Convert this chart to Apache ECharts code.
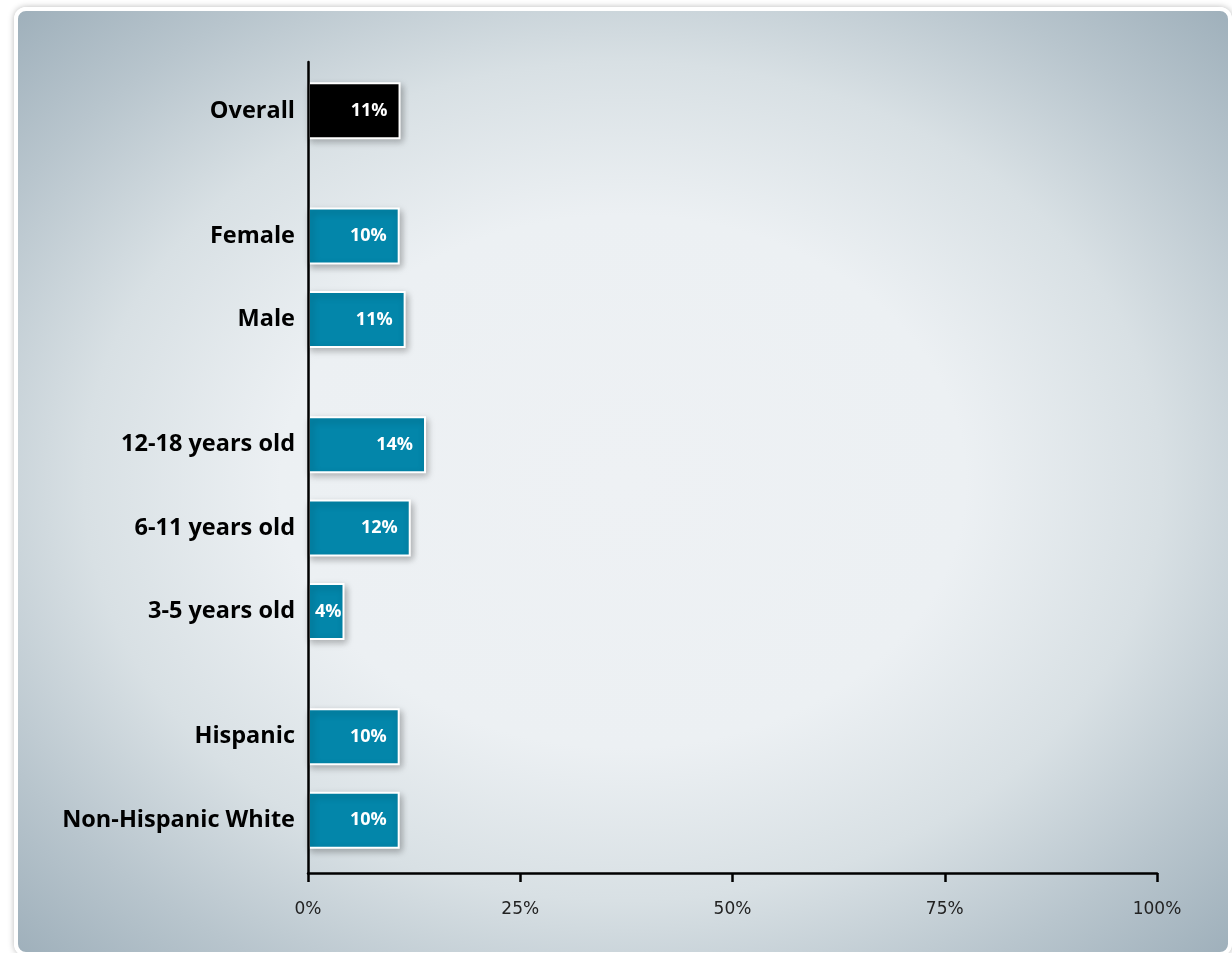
<!DOCTYPE html>
<html>
<head>
<meta charset="utf-8">
<script src="https://cdn.jsdelivr.net/npm/echarts@6/dist/echarts.min.js"></script>
<style>
  html, body { margin: 0; padding: 0; background: #ffffff; width: 1232px; height: 953px; overflow: hidden; }
  #panel {
    position: absolute; left: 14px; top: 7px; width: 1210px; height: 941px;
    border: 4px solid #ffffff; border-radius: 12px;
    box-shadow: 0 0 6px rgba(0,0,0,0.28);
    background: radial-gradient(ellipse farthest-corner at 50% 50%, #eef1f4 0%, #ecf0f3 40%, #d8e0e4 63%, #b8c5cd 83%, #9fb0bb 100%);
  }
  #chart { position: absolute; left: 0; top: 0; width: 1232px; height: 953px; }
</style>
</head>
<body>
<div id="panel"></div>
<div id="chart"></div>
<script>
// ---- data ----
const categories = ['Overall', 'Female', 'Male', '12-18 years old', '6-11 years old', '3-5 years old', 'Hispanic', 'Non-Hispanic White'];
const values = [10.9, 10.8, 11.5, 13.9, 12.1, 4.3, 10.8, 10.8];
const valueLabels = ['11%', '10%', '11%', '14%', '12%', '4%', '10%', '10%'];
const groupStarts = ['Female', '12-18 years old', 'Hispanic'];
const xTicks = [0, 25, 50, 75, 100];

// ---- build half-slot category axis with group gaps ----
const axisCats = [];
const axisData = [];
categories.forEach(function (c, i) {
  if (i > 0) {
    axisCats.push(''); axisData.push(null);
    if (groupStarts.indexOf(c) >= 0) { axisCats.push(''); axisData.push(null); }
  }
  axisCats.push(c);
  axisData.push({
    value: values[i],
    labelText: valueLabels[i],
    itemStyle: { color: c === 'Overall' ? '#000000' : '#0386aa' },
    label: { distance: values[i] < 6 ? 3 : 13 }
  });
});

const chart = echarts.init(document.getElementById('chart'), null, { renderer: 'canvas' });
chart.setOption({
  backgroundColor: 'transparent',
  animation: false,
  grid: [
    { left: 308, right: 75, top: 62, bottom: 80 },
    { left: 308, right: 75, top: 90, bottom: 112 }
  ],
  xAxis: [
    {
      gridIndex: 0, type: 'value', min: xTicks[0], max: xTicks[xTicks.length - 1], interval: 25,
      axisLine: { show: true, lineStyle: { color: '#000', width: 2.5 } },
      axisTick: { show: true, length: 9, lineStyle: { color: '#000', width: 2.5 } },
      axisLabel: { formatter: '{value}%', margin: 28, color: '#222', fontSize: 17, fontFamily: 'DejaVu Sans' },
      splitLine: { show: false }
    },
    { gridIndex: 1, type: 'value', min: 0, max: 100, show: false }
  ],
  yAxis: [
    {
      gridIndex: 0, type: 'value', min: 0, max: 1, z: 10,
      axisLine: { show: true, lineStyle: { color: '#000', width: 2.5 } },
      axisTick: { show: false }, axisLabel: { show: false }, splitLine: { show: false }
    },
    {
      gridIndex: 1, type: 'category', inverse: true, data: axisCats,
      axisLine: { show: false }, axisTick: { show: false },
      axisLabel: { interval: 0, margin: 13, color: '#000', fontSize: 23.5, fontWeight: 'bold', fontFamily: 'Open Sans' }
    }
  ],
  series: [{
    type: 'bar', xAxisIndex: 1, yAxisIndex: 1,
    data: axisData,
    barWidth: 57,
    clip: false,
    itemStyle: {
      borderColor: '#ffffff', borderWidth: 2,
      shadowColor: 'rgba(0,0,0,0.28)', shadowBlur: 7, shadowOffsetX: 2, shadowOffsetY: 3
    },
    label: {
      show: true, position: 'insideRight', color: '#ffffff',
      fontSize: 18, fontWeight: 'bold', fontFamily: 'Open Sans',
      formatter: function (p) { return p.data && p.data.labelText; }
    }
  }]
});
</script>
</body>
</html>
